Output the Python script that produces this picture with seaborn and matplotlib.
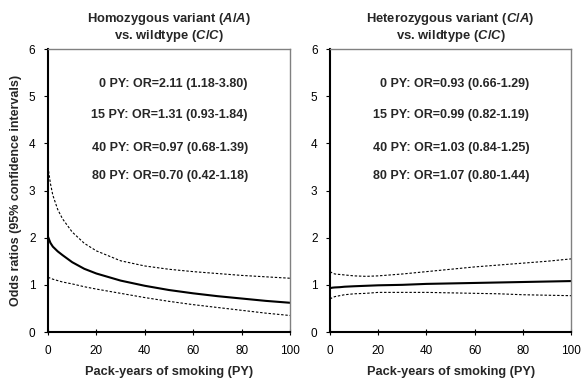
import numpy as np
import pandas as pd
import matplotlib
matplotlib.use("Agg")
import matplotlib.pyplot as plt
import seaborn as sns

# pack-years grid and curves
py = [0, 1, 2, 4, 6, 10, 15, 20, 30, 40, 50, 60, 70, 80, 90, 100]

homo_or = [2.02, 1.89, 1.81, 1.71, 1.63, 1.48, 1.34, 1.24, 1.09, 0.98, 0.89, 0.82, 0.76, 0.71, 0.66, 0.62]
homo_hi = [3.50, 3.15, 2.90, 2.60, 2.40, 2.12, 1.88, 1.72, 1.51, 1.40, 1.33, 1.28, 1.24, 1.20, 1.17, 1.14]
homo_lo = [1.16, 1.14, 1.12, 1.09, 1.06, 1.02, 0.96, 0.91, 0.82, 0.73, 0.65, 0.58, 0.52, 0.46, 0.40, 0.35]

het_or = [0.93, 0.94, 0.945, 0.95, 0.96, 0.97, 0.98, 0.99, 1.00, 1.02, 1.03, 1.04, 1.05, 1.06, 1.07, 1.08]
het_hi = [1.28, 1.25, 1.23, 1.22, 1.21, 1.19, 1.18, 1.19, 1.23, 1.28, 1.33, 1.38, 1.42, 1.46, 1.50, 1.55]
het_lo = [0.70, 0.73, 0.75, 0.77, 0.79, 0.81, 0.82, 0.84, 0.84, 0.84, 0.83, 0.82, 0.81, 0.79, 0.78, 0.77]

homo_text = [
    "0 PY: OR=2.11 (1.18-3.80)",
    "15 PY: OR=1.31 (0.93-1.84)",
    "40 PY: OR=0.97 (0.68-1.39)",
    "80 PY: OR=0.70 (0.42-1.18)",
]
het_text = [
    "0 PY: OR=0.93 (0.66-1.29)",
    "15 PY: OR=0.99 (0.82-1.19)",
    "40 PY: OR=1.03 (0.84-1.25)",
    "80 PY: OR=1.07 (0.80-1.44)",
]
text_y = [5.25, 4.6, 3.9, 3.3]

titles = [
    "Homozygous variant ($A/A$)\nvs. wildtype ($C/C$)",
    "Heterozygous variant ($C/A$)\nvs. wildtype ($C/C$)",
]

sns.set_style("ticks")
plt.rcParams["font.family"] = ["Liberation Sans", "DejaVu Sans"]
plt.rcParams["mathtext.fontset"] = "custom"
plt.rcParams["mathtext.it"] = "Liberation Sans:italic:bold"
plt.rcParams["mathtext.rm"] = "Liberation Sans:bold"
plt.rcParams["mathtext.bf"] = "Liberation Sans:bold"

fig = plt.figure(figsize=(5.81, 3.79), dpi=100)
ax1 = fig.add_axes([0.0826, 0.124, 0.4165, 0.7467])
ax2 = fig.add_axes([0.568, 0.124, 0.415, 0.7467])

panels = [
    (ax1, homo_or, homo_hi, homo_lo, homo_text, titles[0]),
    (ax2, het_or, het_hi, het_lo, het_text, titles[1]),
]

for ax, est, hi, lo, labels, title in panels:
    df = pd.DataFrame({"py": py, "est": est, "hi": hi, "lo": lo})
    sns.lineplot(data=df, x="py", y="hi", ax=ax, color="black", lw=0.8,
                 linestyle=(0, (2.2, 1.6)))
    sns.lineplot(data=df, x="py", y="lo", ax=ax, color="black", lw=0.8,
                 linestyle=(0, (2.2, 1.6)))
    sns.lineplot(data=df, x="py", y="est", ax=ax, color="black", lw=1.5)

    for t, yy in zip(labels, text_y):
        ax.text(82.6, yy, t, ha="right", va="center", fontsize=9,
                fontweight="bold")

    ax.set_xlim(0, 100)
    ax.set_ylim(0, 6)
    ax.set_xticks([0, 20, 40, 60, 80, 100])
    ax.set_yticks([0, 1, 2, 3, 4, 5, 6])
    ax.tick_params(axis="y", direction="out", length=3, width=0.8,
                   labelsize=8.5, colors="black", pad=6)
    ax.tick_params(axis="x", direction="inout", length=5, width=0.8,
                   labelsize=8.5, colors="black", pad=7)
    ax.set_xlabel("Pack-years of smoking (PY)", fontsize=9.2,
                  fontweight="bold", labelpad=6)
    ax.set_ylabel("")
    ax.set_title(title, fontsize=9.4, fontweight="bold", pad=7,
                 linespacing=1.15)
    for side in ["left", "bottom"]:
        ax.spines[side].set_color("black")
        ax.spines[side].set_linewidth(1.5)
    for side in ["top", "right"]:
        ax.spines[side].set_visible(True)
        ax.spines[side].set_color("#808080")
        ax.spines[side].set_linewidth(1.0)

ax1.set_ylabel("Odds ratios (95% confidence intervals)", fontsize=9,
               fontweight="bold", labelpad=5)

fig.savefig("out.png", dpi=100)
